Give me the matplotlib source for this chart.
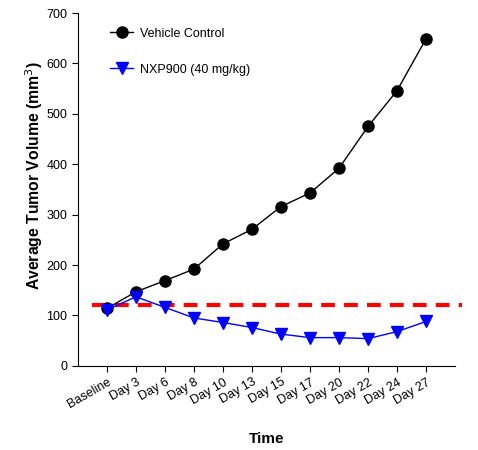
import matplotlib.pyplot as plt

plt.rcParams['font.family'] = ['Liberation Sans', 'DejaVu Sans']

timepoints = ["Baseline", "Day 3", "Day 6", "Day 8", "Day 10", "Day 13",
              "Day 15", "Day 17", "Day 20", "Day 22", "Day 24", "Day 27"]
vehicle = [114, 147, 169, 192, 242, 271, 316, 343, 392, 475, 546, 649]
nxp900 = [111, 137, 116, 95, 86, 76, 63, 56, 56, 54, 68, 88]
threshold = 120

x = list(range(1, len(timepoints) + 1))

fig = plt.figure(figsize=(4.78, 4.5), dpi=100)
ax = fig.add_axes([0.163, 0.187, 0.789, 0.784])

ax.plot(x, vehicle, color='black', lw=1, marker='o', markersize=8,
        label='Vehicle Control', zorder=3)
ax.plot(x, nxp900, color='blue', lw=1, marker='v', markersize=9,
        label='NXP900 (40 mg/kg)', zorder=3)
ax.plot([0.48, 13.25], [threshold, threshold], color='red', lw=3,
        ls=(0, (3.3, 2.2)), clip_on=False, zorder=2)

ax.set_xlim(0, 13)
ax.set_ylim(0, 700)
ax.set_xticks(x)
ax.set_xticklabels(timepoints, rotation=30, ha='right', fontsize=9,
                   rotation_mode='anchor')
ax.set_yticks(range(0, 701, 100))
ax.tick_params(axis='y', labelsize=9, direction='out', length=4)
ax.tick_params(axis='x', direction='out', length=4)
ax.spines['top'].set_visible(False)
ax.spines['right'].set_visible(False)

ax.set_xlabel('Time', fontsize=11, fontweight='bold', labelpad=15)
ax.set_ylabel('Average Tumor Volume (mm$^3$)', fontsize=11.3,
              fontweight='bold')
ax.yaxis.set_label_coords(-0.088, 0.54)

ax.legend(loc='upper left', bbox_to_anchor=(0.056, 0.99), frameon=False,
          fontsize=9, handlelength=1.8, handletextpad=0.6, labelspacing=1.9)

fig.savefig('out.png', dpi=100)
